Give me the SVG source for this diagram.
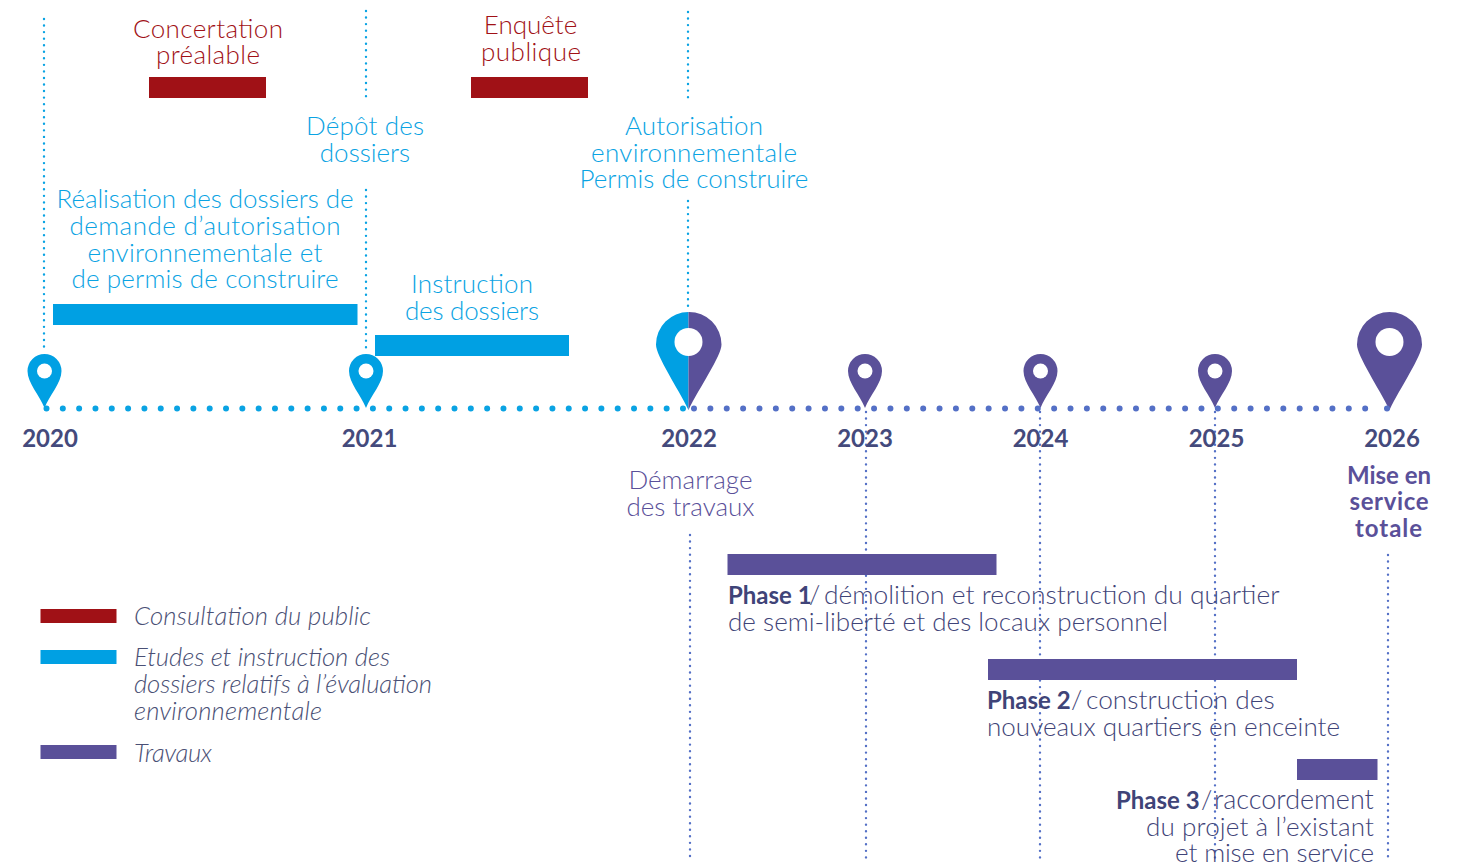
<svg xmlns="http://www.w3.org/2000/svg" width="1459" height="866" viewBox="0 0 1459 866">
<style>
text{font-family:"Lato","Open Sans","Liberation Sans",sans-serif;font-size:26px;font-weight:300}
.m{text-anchor:middle}.e{text-anchor:end}
.red{fill:#a11116}.cy{fill:#0aa3e3}.pu{fill:#5a5099}.nv{fill:#3f4478}
.yr{font-weight:700;fill:#444a7c;font-size:24px;text-anchor:middle}
.b{font-weight:700;font-size:24px}
.leg{font-style:italic;fill:#4a5075;font-size:25.700px}
.pb{fill:#00a0e3}.pp{fill:#5a5099}.pr{fill:#a01116}
.vc{fill:none;stroke:#0aa3e3;stroke-width:2.400;stroke-linecap:round;stroke-dasharray:0 6.550}
.vp{fill:none;stroke:#5470c6;stroke-width:2.400;stroke-linecap:round;stroke-dasharray:0 6.550}
.hc{fill:none;stroke:#0aa3e3;stroke-width:6;stroke-linecap:round;stroke-dasharray:0 16.320}
.hp{fill:none;stroke:#5470c6;stroke-width:6;stroke-linecap:round;stroke-dasharray:0 16.370}
</style>
<defs>
<path id="ps" d="M0,0C-5,-13 -17,-25 -17,-37A17,17 0 0 1 17,-37C17,-25 5,-13 0,0Z"/>
</defs>
<g id="pin-2020"><use href="#ps" x="44.500" y="408" class="pb"/><circle cx="44.500" cy="371" r="7.500" fill="#fff"/></g>
<g id="pin-2021"><use href="#ps" x="366" y="408" class="pb"/><circle cx="366" cy="371" r="7.500" fill="#fff"/></g>
<g id="pin-2022">
<path class="pb" d="M688.500,410C678,388 656,356 656,344.500A32.500,32.500 0 0 1 688.500,312Z"/>
<path class="pp" d="M688.500,410C699,388 721.500,356 721.500,344.500A32.500,32.500 0 0 0 688.500,312Z"/>
<circle cx="688.500" cy="342" r="14" fill="#fff"/></g>
<g id="pin-2023"><use href="#ps" x="865" y="408" class="pp"/><circle cx="865" cy="371" r="7.500" fill="#fff"/></g>
<g id="pin-2024"><use href="#ps" x="1040.500" y="408" class="pp"/><circle cx="1040.500" cy="371" r="7.500" fill="#fff"/></g>
<g id="pin-2025"><use href="#ps" x="1215" y="408" class="pp"/><circle cx="1215" cy="371" r="7.500" fill="#fff"/></g>
<g id="pin-2026">
<path class="pp" d="M1389.500,410C1379,388 1357,356 1357,344.500A32.500,32.500 0 0 1 1422,344.500C1422,356 1400,388 1389.500,410Z"/>
<circle cx="1389.500" cy="342" r="14" fill="#fff"/></g>
<g id="connectors">
<path class="vc" d="M44,19V350"/>
<path class="vc" d="M366,11V98"/>
<path class="vc" d="M366,190V350"/>
<path class="vc" d="M688,12V100"/>
<path class="vc" d="M688,201V312"/>
<path class="vp" d="M690,535V860"/>
<path class="vp" d="M866,412V860"/>
<path class="vp" d="M1040,412V860"/>
<path class="vp" d="M1215,412V860"/>
<path class="vp" d="M1388,555V860"/>
<path class="hc" d="M46.500,408.500H689"/>
<path class="hp" d="M694,408.500H1366"/>
<path class="hp" d="M1387,408.500H1387.100"/>
</g>
<g id="years">
<text class="yr" x="50" y="447">2020</text>
<text class="yr" x="369.500" y="447">2021</text>
<text class="yr" x="689" y="447">2022</text>
<text class="yr" x="865" y="447">2023</text>
<text class="yr" x="1040.500" y="447">2024</text>
<text class="yr" x="1216.500" y="447">2025</text>
<text class="yr" x="1392" y="447">2026</text>
</g>
<g id="concertation"><rect class="pr" x="149" y="77" width="117" height="21"/>
<text class="m red" x="208" y="38" textLength="150">Concertation</text><text class="m red" x="208" y="64" textLength="104">préalable</text></g>
<g id="enquete"><rect class="pr" x="471" y="77" width="117" height="21"/>
<text class="m red" x="530.500" y="34">Enquête</text><text class="m red" x="531" y="61" textLength="100">publique</text></g>
<g id="depot"><text class="m cy" x="365" y="135" textLength="118">Dépôt des</text><text class="m cy" x="365" y="162">dossiers</text></g>
<g id="autorisation"><text class="m cy" x="694" y="135" textLength="138">Autorisation</text><text class="m cy" x="694" y="162" textLength="206">environnementale</text><text class="m cy" x="694" y="188">Permis de construire</text></g>
<g id="realisation"><rect class="pb" x="53" y="304" width="304.500" height="21"/>
<text class="m cy" x="205" y="208" textLength="297">Réalisation des dossiers de</text><text class="m cy" x="205" y="235" textLength="271">demande d’autorisation</text><text class="m cy" x="205" y="262" textLength="235">environnementale et</text><text class="m cy" x="205" y="288" textLength="267">de permis de construire</text></g>
<g id="instruction"><rect class="pb" x="375" y="335" width="194" height="21"/>
<text class="m cy" x="472" y="293" textLength="122">Instruction</text><text class="m cy" x="472" y="320" textLength="134">des dossiers</text></g>
<g id="demarrage"><text class="m pu" x="690.500" y="489">Démarrage</text><text class="m pu" x="690.500" y="516">des travaux</text></g>
<g id="mise"><text class="m pu b" x="1389" y="484">Mise en</text><text class="m pu b" x="1389" y="510" textLength="79">service</text><text class="m pu b" x="1388.500" y="537" textLength="67">totale</text></g>
<g id="phase1"><rect class="pp" x="727.500" y="554" width="269" height="21"/>
<text class="nv" x="728" y="604"><tspan class="b">Phase 1</tspan><tspan x="809">/</tspan> <tspan x="824" font-size="26.400">démolition et reconstruction du quartier</tspan></text><text class="nv" x="728" y="631" textLength="440">de semi-liberté et des locaux personnel</text></g>
<g id="phase2"><rect class="pp" x="988" y="659" width="309" height="21"/>
<text class="nv" x="987" y="709"><tspan class="b">Phase 2</tspan><tspan x="1071">/</tspan> <tspan x="1086" font-size="26.300">construction des</tspan></text><text class="nv" x="987" y="736" textLength="353">nouveaux quartiers en enceinte</text></g>
<g id="phase3"><rect class="pp" x="1297" y="759" width="80.500" height="21"/>
<text class="nv" x="1116" y="809"><tspan class="b" font-size="24.500">Phase 3</tspan><tspan x="1201">/</tspan> <tspan x="1214" font-size="27">raccordement</tspan></text><text class="nv e" x="1374" y="836" textLength="228">du projet à l’existant</text><text class="nv e" x="1374" y="862" textLength="199">et mise en service</text></g>
<g id="legend">
<rect class="pr" x="40.500" y="609" width="76" height="14"/>
<rect class="pb" x="40.500" y="650" width="76" height="14"/>
<rect class="pp" x="40.500" y="745" width="76" height="14"/>
<text class="leg" x="134" y="625" textLength="237">Consultation du public</text>
<text class="leg" x="134" y="666" textLength="256">Etudes et instruction des</text>
<text class="leg" x="134" y="693" textLength="298">dossiers relatifs à l’évaluation</text>
<text class="leg" x="134" y="720" textLength="188">environnementale</text>
<text class="leg" x="134" y="762" textLength="78">Travaux</text>
</g>
</svg>
